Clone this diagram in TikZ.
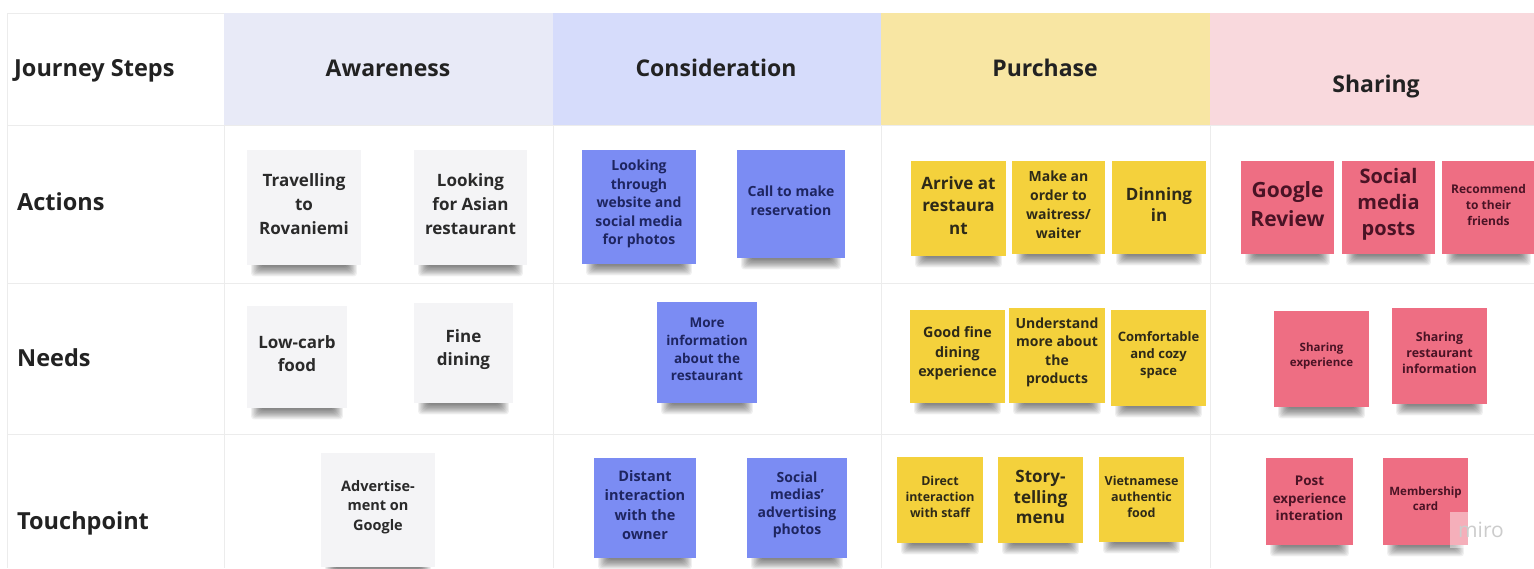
\documentclass[tikz,border=0pt]{standalone}
\usepackage{fontspec}
\setmainfont{Open Sans}
\definecolor{gridc}{HTML}{ECECEC}
\definecolor{hdrA}{HTML}{E8EAF7}
\definecolor{hdrC}{HTML}{D6DCFB}
\definecolor{hdrP}{HTML}{F8E6A3}
\definecolor{hdrS}{HTML}{F9D9DD}
\definecolor{noteW}{HTML}{F4F4F6}
\definecolor{noteB}{HTML}{7B8CF3}
\definecolor{noteY}{HTML}{F4D13C}
\definecolor{noteP}{HTML}{EE6E83}
\definecolor{textW}{HTML}{2A2A2A}
\definecolor{textB}{HTML}{1E2560}
\definecolor{textY}{HTML}{2E2A18}
\definecolor{textP}{HTML}{4A1325}
\definecolor{hdrtext}{HTML}{222222}
\newcommand\fs[2]{\fontsize{#1}{#2}\selectfont}
\tikzset{
  gridline/.style={draw=gridc, line width=0.9pt},
  hdr/.style={anchor=base, inner sep=0pt, font=\fs{23}{27}\bfseries, text=hdrtext},
  rowlab/.style={anchor=base west, inner sep=0pt, font=\fs{23.5}{27}\bfseries, text=hdrtext},
  note/.style={inner sep=0pt},
  notetext/.style={inner sep=0pt, align=center},
  wnote/.style={fill=noteW, text=textW},
  bnote/.style={fill=noteB, text=textB},
  ynote/.style={fill=noteY, text=textY},
  pnote/.style={fill=noteP, text=textP},
}
% name, style, cx, cy, w, h, font, text
\newcommand\stk[8]{%
  \foreach \k in {0,...,9}{%
    \fill[black,opacity=0.06,rounded corners=3pt]
      ({#3-#5/2+14-1.1*\k},{#4+#6/2-5}) rectangle ({#3+#5/2-14+1.1*\k},{#4+#6/2+1.5+1.1*\k});}
  \node[note, #2, minimum width=#5pt, minimum height=#6pt] (#1) at (#3,#4) {};
  \node[notetext, #2, fill=none, font=#7\bfseries] (#1-t) at ([yshift=3pt]#1.center) {#8};
}
\begin{document}
\begin{tikzpicture}[x=1pt,y=-1pt]
\useasboundingbox (0,0) rectangle (1534,568);
\clip (0,0) rectangle (1534,568);
\fill[white] (0,0) rectangle (1534,568);
% header bands
\fill[hdrA] (224,13) rectangle (553,125);
\fill[hdrC] (553,13) rectangle (881,125);
\fill[hdrP] (881,13) rectangle (1210,125);
\fill[hdrS] (1210,13) rectangle (1534,125);
% grid
\draw[gridline] (7,13) -- (224,13);
\draw[gridline] (7,125) -- (1534,125);
\draw[gridline] (7,283) -- (1534,283);
\draw[gridline] (7,434) -- (1534,434);
\draw[gridline] (7,13) -- (7,568);
\draw[gridline] (224,125) -- (224,568);
\draw[gridline] (553,125) -- (553,568);
\draw[gridline] (881,125) -- (881,568);
\draw[gridline] (1210,125) -- (1210,568);
% header texts
\node[rowlab] (js) at (14,76) {Journey Steps};
\node[hdr] (aw) at (388,76) {Awareness};
\node[hdr] (co) at (716,76) {Consideration};
\node[hdr] (pu) at (1045,76) {Purchase};
\node[hdr] (sh) at (1376,92) {Sharing};
\node[rowlab] (ac) at (17,210) {Actions};
\node[rowlab] (ne) at (17,366) {Needs};
\node[rowlab] (tp) at (17,529) {Touchpoint};
% Awareness
\stk{a1}{wnote}{304}{207.5}{114}{115}{\fs{17}{24}}{Travelling\\to\\Rovaniemi}
\stk{a2}{wnote}{470.5}{207.5}{113}{115}{\fs{17}{24}}{Looking\\for Asian\\restaurant}
\stk{a3}{wnote}{297}{357}{100}{102}{\fs{17}{23}}{Low-carb\\food}
\stk{a4}{wnote}{463.5}{353}{99}{100}{\fs{17}{23}}{Fine\\dining}
\stk{a5}{wnote}{378}{510}{114}{114}{\fs{14.5}{19.5}}{Advertise-\\ment on\\Google}
% Consideration
\stk{c1}{bnote}{639}{207}{114}{114}{\fs{14}{18.5}}{Looking\\through\\website and\\social media\\for photos}
\stk{c2}{bnote}{791}{204}{108}{108}{\fs{14}{19}}{Call to make\\reservation}
\stk{c3}{bnote}{707}{352.5}{100}{101}{\fs{13.5}{17.7}}{More\\information\\about the\\restaurant}
\stk{c4}{bnote}{645}{508}{102}{100}{\fs{14.5}{19.5}}{Distant\\interaction\\with the\\owner}
\stk{c5}{bnote}{797}{508}{100}{100}{\fs{14}{17.5}}{Social\\medias'\\advertising\\photos}
% Purchase
\stk{p1}{ynote}{958.5}{208.5}{95}{95}{\fs{17}{22.5}}{Arrive at\\restaura\\nt}
\stk{p2}{ynote}{1058.5}{207.5}{93}{93}{\fs{14}{19}}{Make an\\order to\\waitress/\\waiter}
\stk{p3}{ynote}{1159}{207.5}{94}{93}{\fs{17}{21.7}}{Dinning\\in}
\stk{p4}{ynote}{957.5}{356.5}{95}{93}{\fs{14.3}{19.3}}{Good fine\\dining\\experience}
\stk{p5}{ynote}{1057}{355.5}{96}{95}{\fs{14}{18.3}}{Understand\\more about\\the\\products}
\stk{p6}{ynote}{1158.5}{358}{95}{96}{\fs{13}{17}}{Comfortable\\and cozy\\space}
\stk{p7}{ynote}{940}{500}{86}{86}{\fs{12.4}{16}}{Direct\\interaction\\with staff}
\stk{p8}{ynote}{1040.5}{500}{85}{86}{\fs{17}{20.5}}{Story-\\telling\\menu}
\stk{p9}{ynote}{1141.5}{499.5}{85}{85}{\fs{12.5}{16}}{Vietnamese\\authentic\\food}
% Sharing
\stk{s1}{pnote}{1287.5}{207.5}{93}{93}{\fs{21}{29}}{Google\\Review}
\stk{s2}{pnote}{1388.5}{207.5}{93}{93}{\fs{20}{26}}{Social\\media\\posts}
\stk{s3}{pnote}{1488.5}{207.5}{93}{93}{\fs{12}{16}}{Recommend\\to their\\friends}
\stk{s4}{pnote}{1321.5}{359}{95}{96}{\fs{11.5}{15.7}}{Sharing\\experience}
\stk{s5}{pnote}{1439.5}{356}{95}{96}{\fs{12.4}{16}}{Sharing\\restaurant\\information}
\stk{s6}{pnote}{1309.5}{501.5}{87}{87}{\fs{13.4}{17.5}}{Post\\experience\\interation}
\stk{s7}{pnote}{1425.5}{501.5}{85}{87}{\fs{11.5}{15}}{Membership\\card}
% watermark
\fill[white,opacity=0.45] (1450,512) rectangle (1534,548);
\node[inner sep=0pt, text=black!20, font=\fs{21}{24}] (miro) at (1481,530) {miro};
\end{tikzpicture}
\end{document}
